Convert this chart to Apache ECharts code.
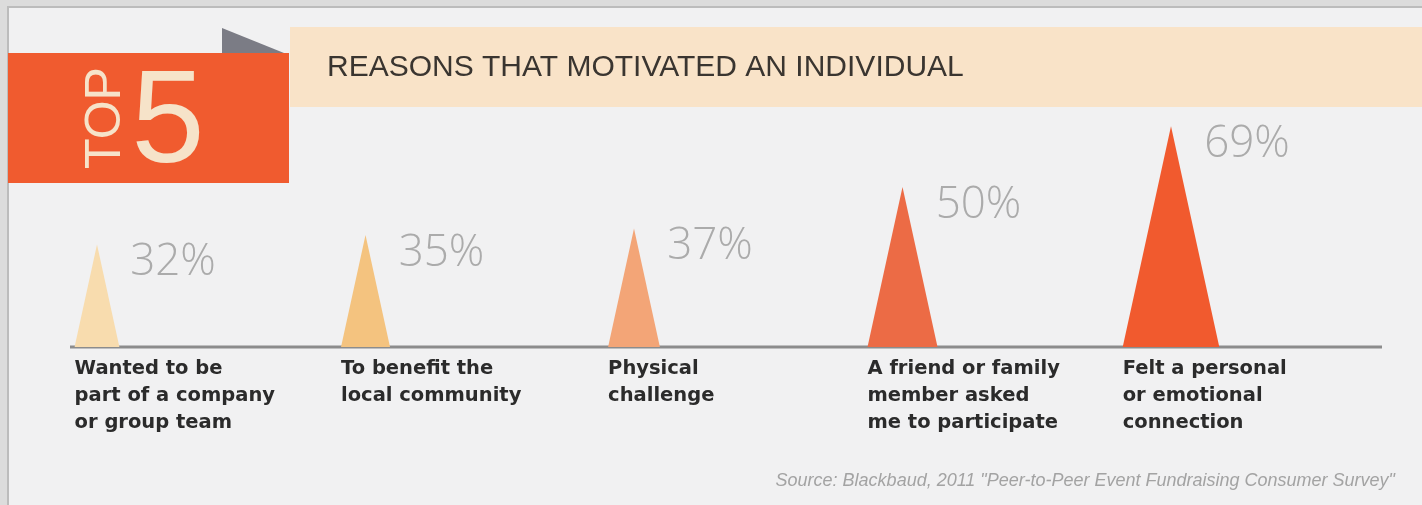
<!DOCTYPE html>
<html>
<head>
<meta charset="utf-8">
<script src="https://cdn.jsdelivr.net/npm/echarts@6/dist/echarts.min.js"></script>
<style>
  html, body { margin: 0; padding: 0; background: #dcdcdc; }
  #chart { width: 1422px; height: 505px; }
</style>
</head>
<body>
<div id="chart"></div>
<script>
// reasons (categories) and share of respondents, in %
const reasons = [
  'Wanted to be\npart of a company\nor group team',
  'To benefit the\nlocal community',
  'Physical\nchallenge',
  'A friend or family\nmember asked\nme to participate',
  'Felt a personal\nor emotional\nconnection'
]
const shares = [32, 35, 37, 50, 69]
const colors = ['#f8dcae', '#f4c37f', '#f3a577', '#ec6b45', '#f15a2e']

const widthPerPoint = 1.4 // triangle base width per %

const chart = echarts.init(document.getElementById('chart'))

chart.setOption({
  animation: false,
  backgroundColor: '#dcdcdc',
  grid: {
    left: 97,
    right: 251,
    top: 27,
    bottom: 158
  },
  xAxis: {
    type: 'category',
    boundaryGap: false,
    data: reasons.map((r, i) => ({
      value: r,
      textStyle: {
        align: 'left',
        padding: [0, 0, 0, -shares[i] * widthPerPoint / 2]
      }
    })),
    axisLine: { show: false },
    axisTick: { show: false },
    axisLabel: {
      align: 'left',
      verticalAlign: 'top',
      margin: 8,
      color: '#2b2b2b',
      fontFamily: 'DejaVu Sans',
      fontWeight: 'bold',
      fontSize: 19.5,
      lineHeight: 27
    }
  },
  yAxis: {
    type: 'value',
    min: 0,
    max: 100,
    show: false
  },
  graphic: [
    { // page frame
      type: 'rect',
      z: -10,
      shape: { x: 8, y: 7, width: 1420, height: 505 },
      style: { fill: '#f1f1f2', stroke: '#bcbcbc', lineWidth: 2 }
    },
    { // title band
      type: 'rect',
      z: -5,
      shape: { x: 290, y: 27, width: 1132, height: 80 },
      style: { fill: '#f9e3c8' }
    },
    { // folded corner
      type: 'polygon',
      z: -5,
      shape: { points: [[222, 28], [284, 53], [222, 53]] },
      style: { fill: '#7b7c85' }
    },
    { // orange "TOP 5" box
      type: 'rect',
      z: -4,
      shape: { x: 8, y: 53, width: 281, height: 130 },
      style: { fill: '#f05b2f' }
    },
    {
      type: 'text',
      z: -3,
      x: 106,
      y: 118,
      rotation: Math.PI / 2,
      style: {
        text: 'TOP',
        fill: '#f6e3c9',
        font: '50px "Liberation Sans"',
        align: 'center',
        verticalAlign: 'middle'
      }
    },
    {
      type: 'text',
      z: -3,
      x: 168,
      y: 126,
      style: {
        text: '5',
        fill: '#f6e3c9',
        font: '132px "Liberation Sans"',
        align: 'center',
        verticalAlign: 'middle'
      }
    },
    {
      type: 'text',
      z: -3,
      x: 327,
      y: 68,
      style: {
        text: 'REASONS THAT MOTIVATED AN INDIVIDUAL',
        fill: '#3a3530',
        font: '30px "Liberation Sans"',
        align: 'left',
        verticalAlign: 'middle'
      }
    },
    { // baseline
      type: 'line',
      z: 1,
      shape: { x1: 70, y1: 347, x2: 1382, y2: 347 },
      style: { stroke: '#8c8c8c', lineWidth: 3 }
    },
    {
      type: 'text',
      x: 1395,
      y: 481,
      style: {
        text: 'Source: Blackbaud, 2011 "Peer-to-Peer Event Fundraising Consumer Survey"',
        fill: '#a3a3a3',
        font: 'italic 18px "Liberation Sans"',
        align: 'right',
        verticalAlign: 'middle'
      }
    }
  ],
  series: [{
    type: 'pictorialBar',
    symbol: 'triangle',
    z: 3,
    data: shares.map((v, i) => ({
      value: v,
      symbolSize: [v * widthPerPoint, '100%'],
      itemStyle: { color: colors[i] }
    })),
    label: {
      show: true,
      position: 'top',
      offset: [76, 45],
      formatter: '{c}%',
      color: '#ababab',
      fontFamily: 'Open Sans',
      fontWeight: 300,
      fontSize: 44
    }
  }]
})
</script>
</body>
</html>
